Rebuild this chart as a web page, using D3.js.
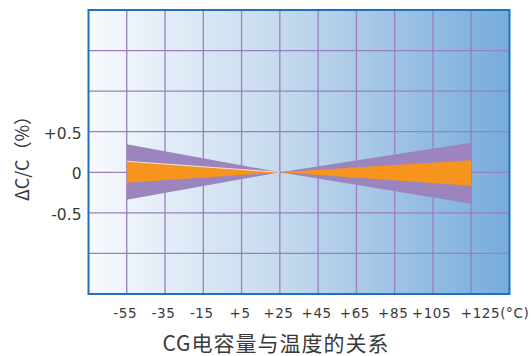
<!DOCTYPE html>
<html>
<head>
<meta charset="utf-8">
<script src="https://cdn.jsdelivr.net/npm/d3@7/dist/d3.min.js"></script>
<style>
  html, body { margin: 0; padding: 0; background: #ffffff; }
  svg { display: block; }
</style>
</head>
<body>
<svg id="chart" width="531" height="356"></svg>
<script>
// Temperature (°C) at the tick marks along the bottom
const tempTicks = [-55, -35, -15, 5, 25, 45, 65, 85, 105, 125];
const tempTickLabels = ["-55", "-35", "-15", "+5", "+25", "+45", "+65", "+85", "+105", "+125(°C)"];

// Capacitance change (%) tick labels on the left
const capTicks = [0.5, 0, -0.5];
const capTickLabels = ["+0.5", "0", "-0.5"];
const capGrid = [-1.0, -0.5, 0, 0.5, 1.0, 1.5];

// Tolerance bands: temperature points and band limits (ΔC/C, %)
const bandTemps = [-55, 25, 125];
const outerUpper = [0.345, 0, 0.365];
const outerLower = [-0.34, 0, -0.387];
const innerUpper = [0.136, 0, 0.148];
const innerLower = [-0.128, 0, -0.165];

const svg = d3.select("#chart");
const plotL = 88.5, plotR = 509.5, plotT = 10, plotB = 294;

const x = d3.scaleLinear().domain([-75, 145]).range([plotL, plotR]);
const y = d3.scaleLinear().domain([-1.5, 2.0]).range([plotB, plotT]);

// Background gradient of the plotting area
const defs = svg.append("defs");
const grad = defs.append("linearGradient").attr("id", "bg").attr("x1", "0").attr("x2", "1").attr("y1", "0").attr("y2", "0");
grad.append("stop").attr("offset", "0%").attr("stop-color", "#f7fafd");
grad.append("stop").attr("offset", "45%").attr("stop-color", "#c6daee");
grad.append("stop").attr("offset", "100%").attr("stop-color", "#77acdc");

svg.append("rect")
  .attr("x", plotL).attr("y", plotT)
  .attr("width", plotR - plotL).attr("height", plotB - plotT)
  .attr("fill", "url(#bg)");

// Grid lines
const gridColor = "#9a7fc0";
svg.append("g").selectAll("line").data(tempTicks).join("line")
  .attr("x1", d => x(d)).attr("x2", d => x(d))
  .attr("y1", plotT).attr("y2", plotB)
  .attr("stroke", gridColor).attr("stroke-width", 1.3);
svg.append("g").selectAll("line").data(capGrid).join("line")
  .attr("x1", plotL).attr("x2", plotR)
  .attr("y1", d => y(d)).attr("y2", d => y(d))
  .attr("stroke", gridColor).attr("stroke-width", 1.3);

// Bands
const bandRows = bandTemps.map((t, i) => ({t, ou: outerUpper[i], ol: outerLower[i], iu: innerUpper[i], il: innerLower[i]}));
const outerArea = d3.area().x(d => x(d.t)).y0(d => y(d.ol)).y1(d => y(d.ou));
const innerArea = d3.area().x(d => x(d.t)).y0(d => y(d.il)).y1(d => y(d.iu));

svg.append("path").datum(bandRows).attr("d", outerArea).attr("fill", "#9c84be");
svg.append("path").datum(bandRows).attr("d", innerArea).attr("fill", "#f7941d");

// Light edge on the upper side of the inner band (cold side)
svg.append("path").datum(bandRows.slice(0, 2))
  .attr("d", d3.line().x(d => x(d.t)).y(d => y(d.iu)))
  .attr("fill", "none").attr("stroke", "#ffffff").attr("stroke-width", 1).attr("stroke-opacity", 0.75);

// Frame
svg.append("rect")
  .attr("x", plotL).attr("y", plotT)
  .attr("width", plotR - plotL).attr("height", plotB - plotT)
  .attr("fill", "none").attr("stroke", "#1f70c0").attr("stroke-width", 2);

// Bottom axis labels
const xAxis = d3.axisBottom(x).tickValues(tempTicks).tickSize(0).tickPadding(14)
  .tickFormat((d, i) => tempTickLabels[i]);
const gx = svg.append("g").attr("transform", `translate(0,${plotB})`).call(xAxis);
gx.select(".domain").remove();
gx.selectAll("text")
  .attr("font-family", "DejaVu Sans, sans-serif")
  .attr("font-size", 13.5)
  .attr("letter-spacing", "0.6px")
  .attr("dx", -2)
  .attr("fill", "#3a3a3a");
gx.selectAll("text").filter((d, i) => i === tempTicks.length - 1)
  .attr("text-anchor", "start").attr("dx", -11);

// Left axis labels
const yAxis = d3.axisLeft(y).tickValues(capTicks).tickSize(0).tickPadding(7)
  .tickFormat((d, i) => capTickLabels[i]);
const gy = svg.append("g").attr("transform", `translate(${plotL},0)`).call(yAxis);
gy.select(".domain").remove();
gy.selectAll("text")
  .attr("font-family", "DejaVu Sans, sans-serif")
  .attr("font-size", 15.5)
  .attr("dy", "0.42em")
  .attr("fill", "#3a3a3a");

// Axis titles
svg.append("text")
  .attr("transform", "translate(29,154) rotate(-90)")
  .attr("text-anchor", "middle")
  .attr("font-family", "Noto Sans CJK SC, sans-serif")
  .attr("font-size", 18)
  .attr("fill", "#3a3a3a")
  .text("ΔC/C（%）");

svg.append("text")
  .attr("x", 276).attr("y", 351)
  .attr("text-anchor", "middle")
  .attr("font-family", "Noto Sans CJK SC, sans-serif")
  .attr("font-size", 21)
  .attr("letter-spacing", "1px")
  .attr("fill", "#3a3a3a")
  .text("CG电容量与温度的关系");
</script>
</body>
</html>
